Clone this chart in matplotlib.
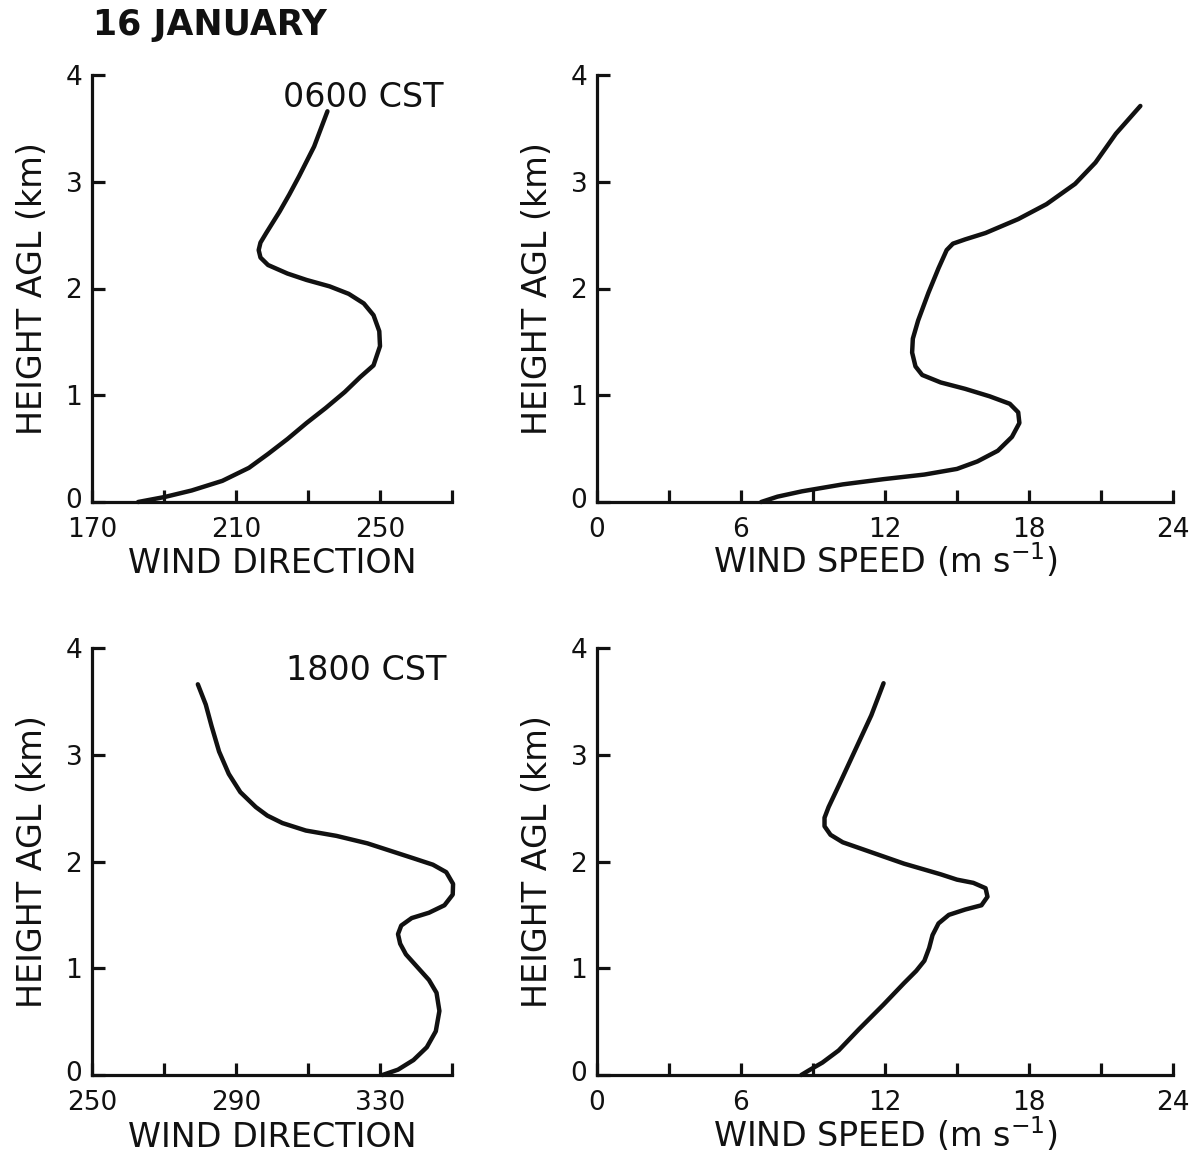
import numpy as np
import matplotlib
matplotlib.use('Agg')
from matplotlib import pyplot as plt
from matplotlib.transforms import ScaledTranslation

# 16 January profiles, height above ground in km

# 0600 CST wind direction (deg)
dir_0600 = [182.8, 190.2, 197.7, 206.2, 213.6, 218.9, 224.3, 229.6, 234.9, 240.2,
            244.5, 248.2, 250.0, 249.8, 248.2, 245.5, 241.3, 236.0, 229.6, 224.3,
            218.9, 216.8, 216.3, 216.8, 218.4, 222.1, 224.8, 227.5, 231.7, 235.4]
z_dir_0600 = [0.0, 0.047, 0.108, 0.198, 0.32, 0.45, 0.59, 0.74, 0.88, 1.03,
              1.17, 1.28, 1.46, 1.60, 1.75, 1.86, 1.95, 2.02, 2.08, 2.14,
              2.22, 2.29, 2.36, 2.43, 2.52, 2.72, 2.88, 3.05, 3.33, 3.66]

# 0600 CST wind speed (m/s)
spd_0600 = [6.84, 7.52, 8.54, 10.24, 11.94, 13.64, 15.0, 15.85, 16.7, 17.29,
            17.6, 17.55, 17.2, 16.36, 15.34, 14.32, 13.55, 13.27, 13.13, 13.16,
            13.38, 13.81, 14.23, 14.57, 14.83, 15.34, 16.19, 17.55, 18.73, 19.92,
            20.77, 21.62, 22.64]
z_spd_0600 = [0.0, 0.05, 0.10, 0.165, 0.214, 0.257, 0.31, 0.38, 0.48, 0.61,
              0.74, 0.84, 0.92, 0.99, 1.06, 1.12, 1.19, 1.27, 1.40, 1.53,
              1.70, 1.96, 2.19, 2.36, 2.42, 2.46, 2.52, 2.65, 2.79, 2.98,
              3.18, 3.45, 3.71]

# 1800 CST wind direction (deg)
dir_1800 = [330.7, 335.0, 339.3, 343.0, 345.5, 346.5, 345.7, 343.6, 340.4, 337.2,
            335.6, 335.0, 335.9, 338.8, 343.6, 347.9, 350.2, 350.3, 348.4, 344.7,
            339.3, 332.9, 326.5, 317.9, 309.4, 302.9, 298.7, 295.5, 291.2, 288.0,
            285.3, 283.2, 281.6, 279.4]
z_dir_1800 = [0.0, 0.05, 0.14, 0.26, 0.41, 0.60, 0.77, 0.89, 1.01, 1.13,
              1.23, 1.32, 1.40, 1.47, 1.52, 1.59, 1.69, 1.79, 1.90, 1.97,
              2.03, 2.10, 2.17, 2.24, 2.29, 2.36, 2.43, 2.51, 2.65, 2.82,
              3.03, 3.27, 3.47, 3.66]

# 1800 CST wind speed (m/s)
spd_1800 = [8.51, 8.88, 9.39, 10.07, 10.92, 11.94, 12.79, 13.30, 13.64, 13.84,
            13.98, 14.23, 14.66, 15.34, 16.02, 16.27, 16.19, 15.68, 15.0, 14.32,
            12.79, 11.26, 10.24, 9.73, 9.48, 9.48, 9.65, 10.07, 10.75, 11.43, 11.94]
z_spd_1800 = [0.0, 0.05, 0.116, 0.23, 0.43, 0.66, 0.86, 0.975, 1.07, 1.19,
              1.31, 1.42, 1.50, 1.55, 1.59, 1.67, 1.75, 1.80, 1.83, 1.88,
              1.98, 2.10, 2.18, 2.25, 2.33, 2.41, 2.51, 2.71, 3.04, 3.37, 3.67]

dir_ticks_0600 = [170, 190, 210, 230, 250, 270]
dir_ticks_1800 = [250, 270, 290, 310, 330, 350]
spd_ticks = [0, 3, 6, 9, 12, 15, 18, 21, 24]
z_ticks = [0, 1, 2, 3, 4]

plt.rcParams['font.family'] = ['DejaVu Sans']
plt.rcParams['mathtext.fontset'] = 'dejavusans'

INK = '#111111'
fig = plt.figure(figsize=(11.95, 11.53), dpi=100)
fig.patch.set_facecolor('white')

W, H = 1195.0, 1153.0


def make_axes(left, right, top, bottom):
    return fig.add_axes([left / W, 1 - bottom / H, (right - left) / W, (bottom - top) / H])


def style_axes(ax, xticks, xlabels, xlabel, xlabel_drop):
    for s in ['top', 'right']:
        ax.spines[s].set_visible(False)
    for s in ['left', 'bottom']:
        ax.spines[s].set_linewidth(2.3)
        ax.spines[s].set_color(INK)
    ax.set_xlim(xticks[0], xticks[-1])
    ax.set_ylim(0, 4)
    ax.set_xticks(xticks)
    ax.set_xticklabels(xlabels)
    ax.set_yticks(z_ticks)
    ax.tick_params(direction='in', length=9, width=2.3, color=INK,
                   labelsize=19, labelcolor=INK)
    ax.tick_params(axis='x', pad=11)
    ax.tick_params(axis='y', pad=7)
    # the "0" on the height axis sits a little above the corner
    zero = ax.get_yticklabels()[0]
    zero.set_transform(zero.get_transform() + ScaledTranslation(0, 3 / 72, fig.dpi_scale_trans))
    ax.set_xlabel(xlabel, fontsize=24, color=INK, va='baseline')
    # x label baseline sits a fixed number of pixels under the axis line
    h_px = ax.get_position().height * H
    ax.xaxis.set_label_coords(0.5, -xlabel_drop / h_px)
    ax.set_ylabel('HEIGHT AGL (km)', fontsize=24, labelpad=12, color=INK)
    ax.patch.set_alpha(0)


def dir_labels(ticks):
    return [str(t) if i % 2 == 0 else '' for i, t in enumerate(ticks)]


spd_labels = [str(t) if t % 6 == 0 else '' for t in spd_ticks]
speed_label = 'WIND SPEED (m s$^{-1}$)'
line_kw = dict(color=INK, lw=3.2, clip_on=False, solid_joinstyle='round',
               solid_capstyle='round')

ax1 = make_axes(92, 452, 75, 502)
ax1.plot(dir_0600, z_dir_0600, **line_kw)
style_axes(ax1, dir_ticks_0600, dir_labels(dir_ticks_0600), 'WIND DIRECTION', 71)
ax1.text(0.53, 0.948, '0600 CST', transform=ax1.transAxes, fontsize=24,
         va='center', ha='left', color=INK)

ax2 = make_axes(597, 1173, 75, 502)
ax2.plot(spd_0600, z_spd_0600, **line_kw)
style_axes(ax2, spd_ticks, spd_labels, speed_label, 71)

ax3 = make_axes(92, 452, 648, 1075)
ax3.plot(dir_1800, z_dir_1800, **line_kw)
style_axes(ax3, dir_ticks_1800, dir_labels(dir_ticks_1800), 'WIND DIRECTION', 72)
ax3.text(0.54, 0.948, '1800 CST', transform=ax3.transAxes, fontsize=24,
         va='center', ha='left', color=INK)

ax4 = make_axes(597, 1173, 648, 1075)
ax4.plot(spd_1800, z_spd_1800, **line_kw)
style_axes(ax4, spd_ticks, spd_labels, speed_label, 72)

fig.text(93 / W, 1 - 25 / H, '16 JANUARY', fontsize=25, fontweight='bold',
         va='center', ha='left', color=INK)

fig.savefig('out.png', dpi=100, facecolor='white')
